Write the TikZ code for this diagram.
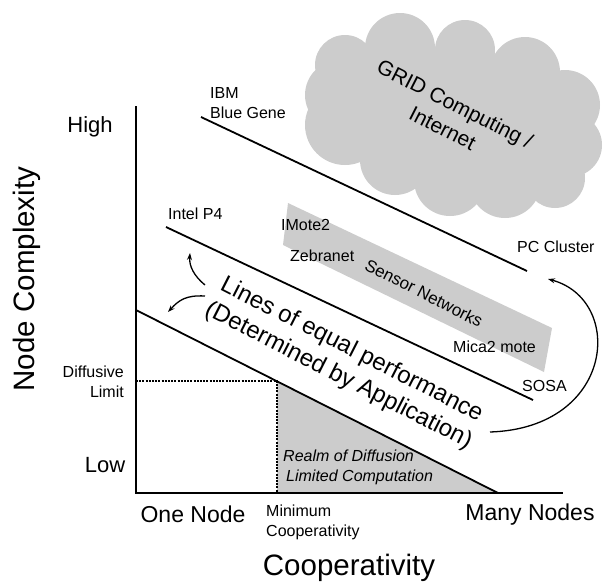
\documentclass[tikz,border=0pt]{standalone}
\usepackage{fontspec}
\setmainfont{Liberation Sans}
\usetikzlibrary{arrows.meta}
\definecolor{greyfill}{RGB}{204,204,204}
\begin{document}
\begin{tikzpicture}[x=1pt,y=-1pt,
  lbl/.style={inner sep=0pt,font=\fontsize{16}{20}\selectfont},
  mid/.style={inner sep=0pt,font=\fontsize{23}{27}\selectfont},
  big/.style={inner sep=0pt,font=\fontsize{29.5}{34}\selectfont},
  perf/.style={line width=1.8pt,black},
  axis/.style={line width=2.4pt,black},
  guide/.style={line width=1.4pt,dash pattern=on 2pt off 1.2pt},
  curvarrow/.style={line width=1.3pt,-{Stealth[length=7pt,width=5pt]}}]
\useasboundingbox (0,0) rectangle (604,587);
% cloud
\fill[greyfill] (455,120) ellipse [x radius=115, y radius=70];
\foreach \cx/\cy/\r in {345/65/30,400/48/35,465/50/30,525/72/35,565/105/35,570/145/32,555/178/30,505/182/36,450/180/36,395/160/35,345/125/40,340/95/35}
  \fill[greyfill] (\cx,\cy) circle [radius=\r];
% sensor band
\fill[greyfill] (288,203) -- (552,328) -- (544,372) -- (283,245) -- cycle;
% realm triangle
\coordinate (corner) at (277,381);
\coordinate (foot) at (277,493);
\coordinate (lowend) at (498,493);
\fill[greyfill] (corner) -- (lowend) -- (foot) -- cycle;
% axes
\coordinate (origin) at (136,493);
\coordinate (ytop) at (136,106);
\coordinate (xend) at (563,493);
\coordinate (lowstart) at (136,310);
\coordinate (dlim) at (136,381);
\draw[guide] (dlim) -- (corner) -- (foot);
\draw[axis] (ytop) -- (origin) -- (xend);
% lines of equal performance
\coordinate (ibmA) at (201,117);
\coordinate (ibmB) at (527,271);
\coordinate (intA) at (166,227);
\coordinate (intB) at (533,400);
\draw[perf] (ibmA) -- (ibmB);
\draw[perf] (intA) -- (intB);
\draw[perf] (lowstart) -- (lowend);
% texts
\node[lbl,anchor=west,align=left] (ibm) at (210,103) {IBM\\Blue Gene};
\node[lbl,anchor=west] (intel) at (168,214) {Intel P4};
\node[lbl,anchor=west] (imote) at (281,225) {IMote2};
\node[lbl,anchor=west] (zebra) at (290,256) {Zebranet};
\node[lbl,anchor=west] (mica) at (453,347) {Mica2 mote};
\node[lbl,anchor=west] (sosa) at (522,386) {SOSA};
\node[lbl,anchor=west] (pc) at (517,247) {PC Cluster};
\node[inner sep=0pt,font=\fontsize{17}{20}\selectfont,rotate=-27] (sensor) at (424,293) {Sensor Networks};
\node[inner sep=0pt,font=\fontsize{21}{27}\selectfont,align=center,rotate=-27] (grid) at (449,116) {GRID Computing /\\Internet};
\node[inner sep=0pt,font=\fontsize{24}{29}\selectfont,align=center,rotate=-27] (lines) at (345,363) {Lines of equal performance\\(Determined by Application)};
\node[lbl,anchor=east,align=right] (diff) at (124,382) {Diffusive\\Limit};
\node[lbl,anchor=west,align=left] (minc) at (266,522) {Minimum\\Cooperativity};
\node[lbl,anchor=west,align=left,font=\itshape\fontsize{16}{20}\selectfont] (realm) at (283,467) {Realm of Diffusion\\\hspace*{3pt}Limited Computation};
\node[inner sep=0pt,font=\fontsize{22}{26}\selectfont] (high) at (90,127) {High};
\node[inner sep=0pt,font=\fontsize{22}{26}\selectfont] (low) at (105,465) {Low};
\node[mid] (one) at (193,514) {One Node};
\node[mid] (many) at (530,515) {Many Nodes};
\node[big] (coop) at (349,568) {Cooperativity};
\node[big,rotate=90] (ncomp) at (27,279) {Node Complexity};
% arrows
\coordinate (a1s) at (205,285);
\coordinate (a1e) at (190,253);
\coordinate (a2s) at (205,296);
\coordinate (a2e) at (168,312);
\coordinate (a3s) at (490,432);
\coordinate (a3e) at (548,279);
\draw[curvarrow] (a1s) .. controls (194,276) and (189,266) .. (a1e);
\draw[curvarrow] (a2s) .. controls (186,295) and (179,300) .. (a2e);
\draw[curvarrow] (a3s) .. controls (615,428) and (625,300) .. (a3e);
\end{tikzpicture}
\end{document}
